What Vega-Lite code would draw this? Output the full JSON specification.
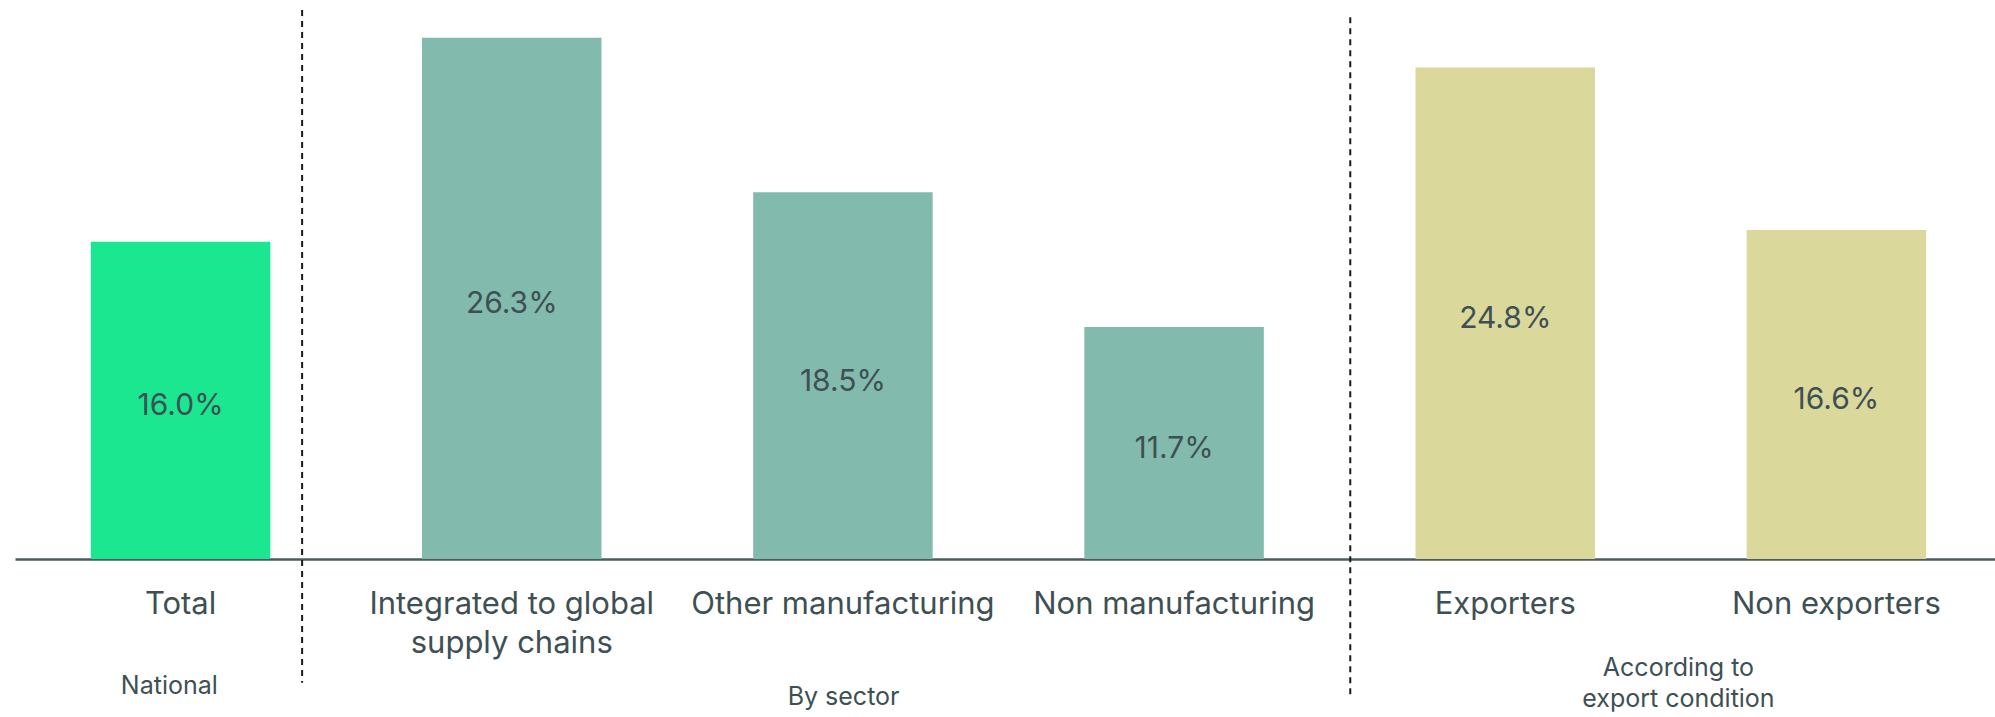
{
  "$schema": "https://vega.github.io/schema/vega-lite/v6.json",
  "width": 1980,
  "height": 555,
  "autosize": {"type": "none"},
  "padding": {"left": 15, "top": 4, "right": 0, "bottom": 158},
  "background": "white",
  "config": {
    "view": {"stroke": null},
    "font": "Inter",
    "axis": {"grid": false}
  },
  "datasets": {
    "bars": [
      {"category": "Total", "group": "National", "share": 0.160},
      {"category": "Integrated to global supply chains", "group": "By sector", "share": 0.263},
      {"category": "Other manufacturing", "group": "By sector", "share": 0.185},
      {"category": "Non manufacturing", "group": "By sector", "share": 0.117},
      {"category": "Exporters", "group": "According to export condition", "share": 0.248},
      {"category": "Non exporters", "group": "According to export condition", "share": 0.166}
    ],
    "dividers": [
      {"pos": 0.867, "top": 0.277, "bottom": -0.0624},
      {"pos": 4.032, "top": 0.2733, "bottom": -0.0696}
    ],
    "groupLabels": [
      {"label": "National", "pos": 0.466, "level": -0.0641},
      {"label": "By sector", "pos": 2.502, "level": -0.0696},
      {"label": "According to", "pos": 5.023, "level": -0.055},
      {"label": "export condition", "pos": 5.023, "level": -0.0706}
    ]
  },
  "resolve": {"scale": {"x": "independent", "y": "independent"}},
  "layer": [
    {
      "data": {"name": "bars"},
      "mark": {"type": "bar"},
      "encoding": {
        "x": {
          "field": "category",
          "type": "nominal",
          "sort": null,
          "scale": {"range": [0, 1987], "paddingInner": 0.458, "paddingOuter": 0.229},
          "axis": {
            "title": null,
            "ticks": false,
            "domainColor": "#4b5c5f",
            "domainWidth": 2.5,
            "labelAngle": 0,
            "labelFont": "Inter",
            "labelFontSize": 31,
            "labelColor": "#3e5053",
            "labelBaseline": "top",
            "labelPadding": 30,
            "labelLineHeight": 39,
            "labelLimit": 500,
            "labelOverlap": false,
            "labelExpr": "datum.label == 'Integrated to global supply chains' ? ['Integrated to global', 'supply chains'] : datum.label"
          }
        },
        "y": {
          "field": "share",
          "type": "quantitative",
          "scale": {"domain": [0, 0.28]},
          "axis": null
        },
        "color": {
          "field": "group",
          "type": "nominal",
          "scale": {
            "domain": ["National", "By sector", "According to export condition"],
            "range": ["#1ae78f", "#82bbad", "#dbd89c"]
          },
          "legend": null
        }
      }
    },
    {
      "data": {"name": "bars"},
      "mark": {"type": "text", "font": "Inter", "fontSize": 30, "color": "#3e5053", "baseline": "middle", "align": "center", "dy": 6},
      "encoding": {
        "x": {
          "field": "category",
          "type": "nominal",
          "sort": null,
          "scale": {"range": [0, 1987], "paddingInner": 0.458, "paddingOuter": 0.229},
          "axis": null
        },
        "y": {
          "field": "share",
          "type": "quantitative",
          "scale": {"domain": [0, 0.56]},
          "axis": null
        },
        "text": {"field": "share", "type": "quantitative", "format": ".1%"}
      }
    },
    {
      "data": {"name": "dividers"},
      "mark": {"type": "rule", "color": "#1a1a1a", "strokeWidth": 2, "strokeDash": [6, 5]},
      "encoding": {
        "x": {"field": "pos", "type": "quantitative", "scale": {"domain": [0, 6], "range": [0, 1987]}, "axis": null},
        "y": {"field": "top", "type": "quantitative", "scale": {"domain": [0, 0.28]}, "axis": null},
        "y2": {"field": "bottom"}
      }
    },
    {
      "data": {"name": "groupLabels"},
      "mark": {"type": "text", "font": "Inter", "fontSize": 25, "color": "#3e5053", "baseline": "middle", "align": "center"},
      "encoding": {
        "x": {"field": "pos", "type": "quantitative", "scale": {"domain": [0, 6], "range": [0, 1987]}, "axis": null},
        "y": {"field": "level", "type": "quantitative", "scale": {"domain": [0, 0.28]}, "axis": null},
        "text": {"field": "label", "type": "nominal"}
      }
    }
  ]
}
